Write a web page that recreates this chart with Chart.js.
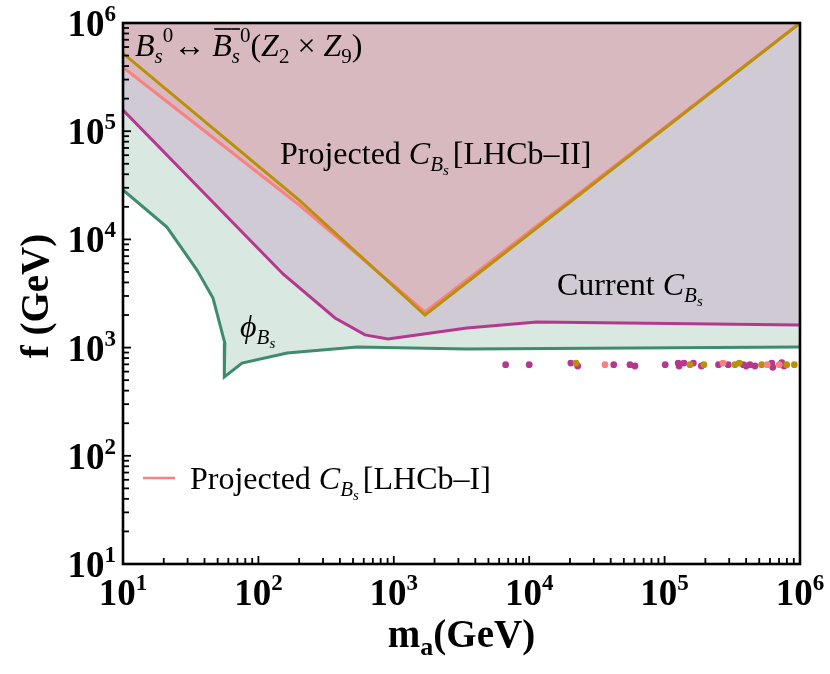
<!DOCTYPE html>
<html lang="en">
<head>
  <meta charset="UTF-8">
  <title>Bs mixing bounds</title>
  <script src="https://cdn.jsdelivr.net/npm/chart.js"></script>
  <style>
    body {
      margin: 0;
      background-color: #fff;
      overflow: hidden;
    }

    .chart-container {
      width: 830px;
      height: 674px;
    }
  </style>
</head>
<body>
  <div class="chart-container">
    <canvas id="boundsChart"></canvas>
  </div>

  <script>
    // Data (m_a in GeV, f in GeV)
    const goldX = [10, 200, 1700, 1e6];
    const goldY = [525000, 23100, 2000, 1e6];

    const pinkX = [10, 200, 1700, 1e6];
    const pinkY = [390000, 20800, 2140, 1e6];

    const magentaX = [10, 152, 368, 613, 906, 3470, 11400, 1e6];
    const magentaY = [157000, 4790, 1880, 1310, 1200, 1520, 1725, 1620];

    const greenX = [10, 21.1, 35.2, 46.2, 56.5, 56, 75.7, 163, 535, 3470, 1e6];
    const greenY = [28600, 13000, 5210, 2870, 1100, 535, 720, 891, 1013, 971, 1013];

    const magentaDotsX = [6700, 10000, 20300, 22800, 42100, 55500, 60400, 101000, 126000, 128000, 139000, 163000, 187000, 250000, 295000, 381000, 400000, 427000, 465000, 618000, 629000, 733000, 762000];
    const magentaDotsY = [695, 695, 720, 676, 695, 695, 676, 695, 720, 676, 720, 720, 676, 695, 695, 695, 676, 695, 676, 720, 658, 725, 676];
    const goldDotsX = [22200, 154000, 195000, 331000, 356000, 521000, 798000, 908000];
    const goldDotsY = [720, 695, 695, 695, 720, 695, 695, 695];
    const pinkDotsX = [36300, 270000, 573000, 703000];
    const pinkDotsY = [695, 720, 695, 695];

    const decades = [1, 2, 3, 4, 5, 6];

    // Colours
    const goldColor = "#b8900a";
    const pinkColor = "#f88282";
    const magentaColor = "#b5388f";
    const greenColor = "#3f8b6d";

    const SERIF = '"Liberation Serif", "DejaVu Serif", serif';
    const FS = 32;

    const toPoints = (xs, ys) => xs.map((x, i) => ({ x: x, y: ys[i] }));

    // Helper Functions
    // draws a run of text pieces, each with its own size / style / offset
    const drawRich = (ctx, x, y, parts) => {
      parts.forEach((p) => {
        ctx.font = (p.i ? "italic " : "") + (p.b ? "bold " : "") + p.s + "px " + SERIF;
        const w = ctx.measureText(p.t).width;
        ctx.fillText(p.t, x, y + (p.dy || 0));
        if (p.over) {
          ctx.save();
          ctx.lineWidth = 1.6;
          ctx.strokeStyle = ctx.fillStyle;
          ctx.beginPath();
          ctx.moveTo(x + p.over[0], y - 27);
          ctx.lineTo(x + w + p.over[1], y - 27);
          ctx.stroke();
          ctx.restore();
        }
        x += w + (p.gap || 0);
      });
      return x;
    };

    const richWidth = (ctx, parts) => {
      let w = 0;
      parts.forEach((p) => {
        ctx.font = (p.i ? "italic " : "") + (p.b ? "bold " : "") + p.s + "px " + SERIF;
        w += ctx.measureText(p.t).width + (p.gap || 0);
      });
      return w;
    };

    const CBs = [
      { t: "C", s: FS, i: true },
      { t: "B", s: 21, i: true, dy: 7 },
      { t: "s", s: 15, i: true, dy: 11, gap: 4 },
    ];

    const powerLabel = (e) => [
      { t: "10", s: 37, b: true },
      { t: String(e), s: 23, b: true, dy: -15 },
    ];

    const decorPlugin = {
      id: "decor",
      afterDraw(chart) {
        const { ctx, chartArea: a, scales } = chart;
        const xs = scales.x;
        const ys = scales.y;
        ctx.save();
        ctx.fillStyle = "#000";
        ctx.textBaseline = "alphabetic";
        ctx.textAlign = "left";

        // frame
        ctx.strokeStyle = "#000";
        ctx.lineWidth = 2.6;
        ctx.strokeRect(a.left, a.top, a.right - a.left, a.bottom - a.top);

        // inward ticks on left and bottom
        ctx.lineWidth = 1.8;
        decades.slice(0, 5).forEach((e) => {
          for (let m = 1; m <= 9; m++) {
            const v = m * Math.pow(10, e);
            const len = m === 1 ? 8 : 6;
            const px = xs.getPixelForValue(v);
            ctx.beginPath();
            ctx.moveTo(px, a.bottom);
            ctx.lineTo(px, a.bottom - len);
            ctx.stroke();
            const py = ys.getPixelForValue(v);
            ctx.beginPath();
            ctx.moveTo(a.left, py);
            ctx.lineTo(a.left + len, py);
            ctx.stroke();
          }
        });

        // tick labels
        decades.forEach((e) => {
          const parts = powerLabel(e);
          const w = richWidth(ctx, parts);
          const px = xs.getPixelForValue(Math.pow(10, e));
          drawRich(ctx, px - w / 2, a.bottom + 41, parts);
          const py = ys.getPixelForValue(Math.pow(10, e));
          drawRich(ctx, a.left - 7 - w, py + 13, parts);
        });

        // axis titles
        const xTitle = [
          { t: "m", s: 39, b: true },
          { t: "a", s: 26, b: true, dy: 8 },
          { t: "(GeV)", s: 39, b: true },
        ];
        const xw = richWidth(ctx, xTitle);
        drawRich(ctx, (a.left + a.right) / 2 - xw / 2, 647, xTitle);

        const yTitle = [{ t: "f (GeV)", s: 39, b: true }];
        const yw = richWidth(ctx, yTitle);
        ctx.save();
        ctx.translate(48, 296);
        ctx.rotate(-Math.PI / 2);
        drawRich(ctx, -yw / 2, 0, yTitle);
        ctx.restore();

        // annotations
        drawRich(ctx, 135, 56, [
          { t: "B", s: FS, i: true },
          { t: "s", s: 21, i: true, dy: 7 },
          { t: "0", s: 21, dy: -14 },
          { t: "\u2194", s: FS, gap: 7 },
          { t: "B", s: FS, i: true, over: [2, 0] },
          { t: "s", s: 21, i: true, dy: 7, over: [0, 0] },
          { t: "0", s: 21, dy: -14 },
          { t: "(", s: FS },
          { t: "Z", s: FS, i: true },
          { t: "2", s: 21, dy: 7 },
          { t: " \u00d7 ", s: FS },
          { t: "Z", s: FS, i: true },
          { t: "9", s: 21, dy: 7 },
          { t: ")", s: FS },
        ]);

        drawRich(ctx, 280, 164, [{ t: "Projected ", s: FS }, ...CBs, { t: "[LHCb\u2013II]", s: FS }]);
        drawRich(ctx, 557, 295, [{ t: "Current ", s: FS }, ...CBs]);
        drawRich(ctx, 240, 337, [
          { t: "\u03d5", s: FS, i: true },
          { t: "B", s: 21, i: true, dy: 7 },
          { t: "s", s: 15, i: true, dy: 11 },
        ]);

        // legend
        ctx.strokeStyle = pinkColor;
        ctx.lineWidth = 2.5;
        ctx.beginPath();
        ctx.moveTo(143, 478);
        ctx.lineTo(175, 478);
        ctx.stroke();
        drawRich(ctx, 190, 489, [{ t: "Projected ", s: FS }, ...CBs, { t: "[LHCb\u2013I]", s: FS }]);

        ctx.restore();
      },
    };

    // Initialize Chart
    const ctx = document.getElementById("boundsChart").getContext("2d");
    const chart = new Chart(ctx, {
      type: "line",
      data: {
        datasets: [
          {
            label: "gold",
            data: toPoints(goldX, goldY),
            borderColor: goldColor,
            borderWidth: 3,
            pointRadius: 0,
            fill: false,
            tension: 0,
          },
          {
            label: "Projected C_Bs [LHCb-I]",
            data: toPoints(pinkX, pinkY),
            borderColor: pinkColor,
            backgroundColor: "#d9b9c0",
            borderWidth: 3,
            pointRadius: 0,
            fill: "end",
            tension: 0,
          },
          {
            label: "Current C_Bs",
            data: toPoints(magentaX, magentaY),
            borderColor: magentaColor,
            backgroundColor: "#cfcad3",
            borderWidth: 3,
            pointRadius: 0,
            fill: "end",
            tension: 0,
          },
          {
            label: "phi_Bs",
            data: toPoints(greenX, greenY),
            borderColor: greenColor,
            backgroundColor: "#d9e8e1",
            borderWidth: 3,
            pointRadius: 0,
            fill: "end",
            tension: 0,
          },
          {
            type: "scatter",
            label: "pink dots",
            data: toPoints(pinkDotsX, pinkDotsY),
            backgroundColor: pinkColor,
            borderWidth: 0,
            pointRadius: 3.4,
          },
          {
            type: "scatter",
            label: "gold dots",
            data: toPoints(goldDotsX, goldDotsY),
            backgroundColor: goldColor,
            borderWidth: 0,
            pointRadius: 3.4,
          },
          {
            type: "scatter",
            label: "magenta dots",
            data: toPoints(magentaDotsX, magentaDotsY),
            backgroundColor: magentaColor,
            borderWidth: 0,
            pointRadius: 3.4,
          },
        ],
      },
      options: {
        responsive: true,
        maintainAspectRatio: false,
        animation: false,
        layout: {
          padding: { top: 23, right: 30, left: 0, bottom: 0 },
        },
        plugins: {
          legend: { display: false },
          tooltip: { enabled: false },
          filler: { propagate: false },
        },
        scales: {
          x: {
            type: "logarithmic",
            min: 10,
            max: 1e6,
            ticks: { display: false },
            grid: { display: false },
            border: { display: false },
            afterFit: (scale) => { scale.height = 110; },
          },
          y: {
            type: "logarithmic",
            min: 10,
            max: 1e6,
            ticks: { display: false },
            grid: { display: false },
            border: { display: false },
            afterFit: (scale) => { scale.width = 123; },
          },
        },
      },
      plugins: [decorPlugin],
    });
  </script>
</body>
</html>
